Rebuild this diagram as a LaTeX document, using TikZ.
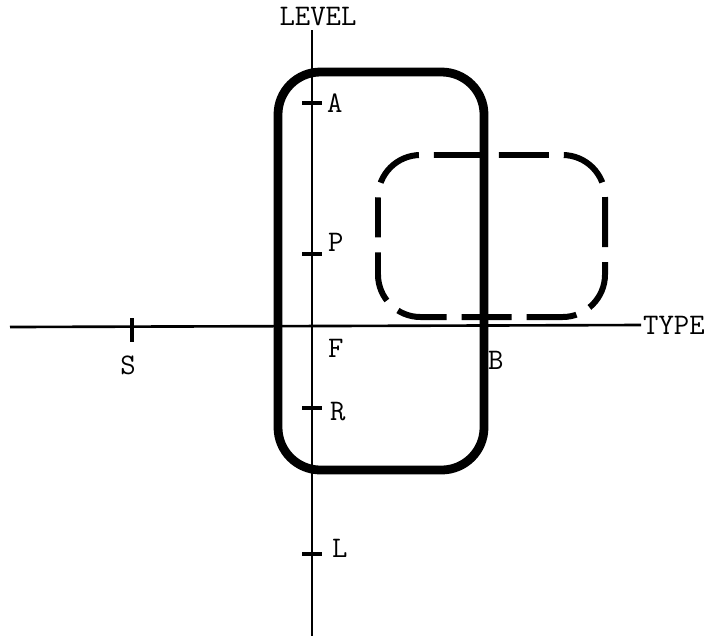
\documentclass[tikz,border=0pt]{standalone}
\usetikzlibrary{positioning}

\begin{document}
\begin{tikzpicture}[x=0.02cm, y=-0.02cm,
  axis/.style={line width=1.5pt},
  tickmark/.style={line width=2.2pt},
  lbl/.style={font=\ttfamily\fontsize{17}{19}\selectfont, inner sep=1pt},
  region/.style={line width=5pt, rounded corners=0.85cm},
  subregion/.style={line width=3.4pt, rounded corners=0.85cm, dash pattern=on 1cm off 0.3cm, dash phase=0.2cm}
]
  \useasboundingbox (0,0) rectangle (715,637);

  % axes
  \node[lbl] (level) at (318,17) {LEVEL};
  \node[lbl, anchor=west] (type) at (641,325) {TYPE};
  \coordinate (vbot) at (312,636);
  \coordinate (hleft) at (10,327);
  \draw[axis] (level.south -| vbot) ++(0,2) -- (vbot);
  \draw[axis] (hleft) -- (type.west);

  % ticks on LEVEL
  \foreach \y in {103,254,408,554}
    \draw[tickmark] (302,\y) -- (322,\y);
  \draw[tickmark] (132,318) -- (132,342);

  % labels
  \node[lbl, anchor=west] (A) at (325,103) {A};
  \node[lbl, anchor=west] (P) at (326,242) {P};
  \node[lbl, anchor=west] (R) at (328,412) {R};
  \node[lbl, anchor=west] (L) at (330,548) {L};
  \node[lbl, anchor=west] (F) at (326,348) {F};
  \node[lbl] (S) at (128,365) {S};
  \node[lbl, anchor=west] (B) at (486,360) {B};

  % regions
  \draw[region] (278,72) rectangle (484,470);
  \draw[subregion] (378,155) rectangle (605,317);
\end{tikzpicture}
\end{document}
